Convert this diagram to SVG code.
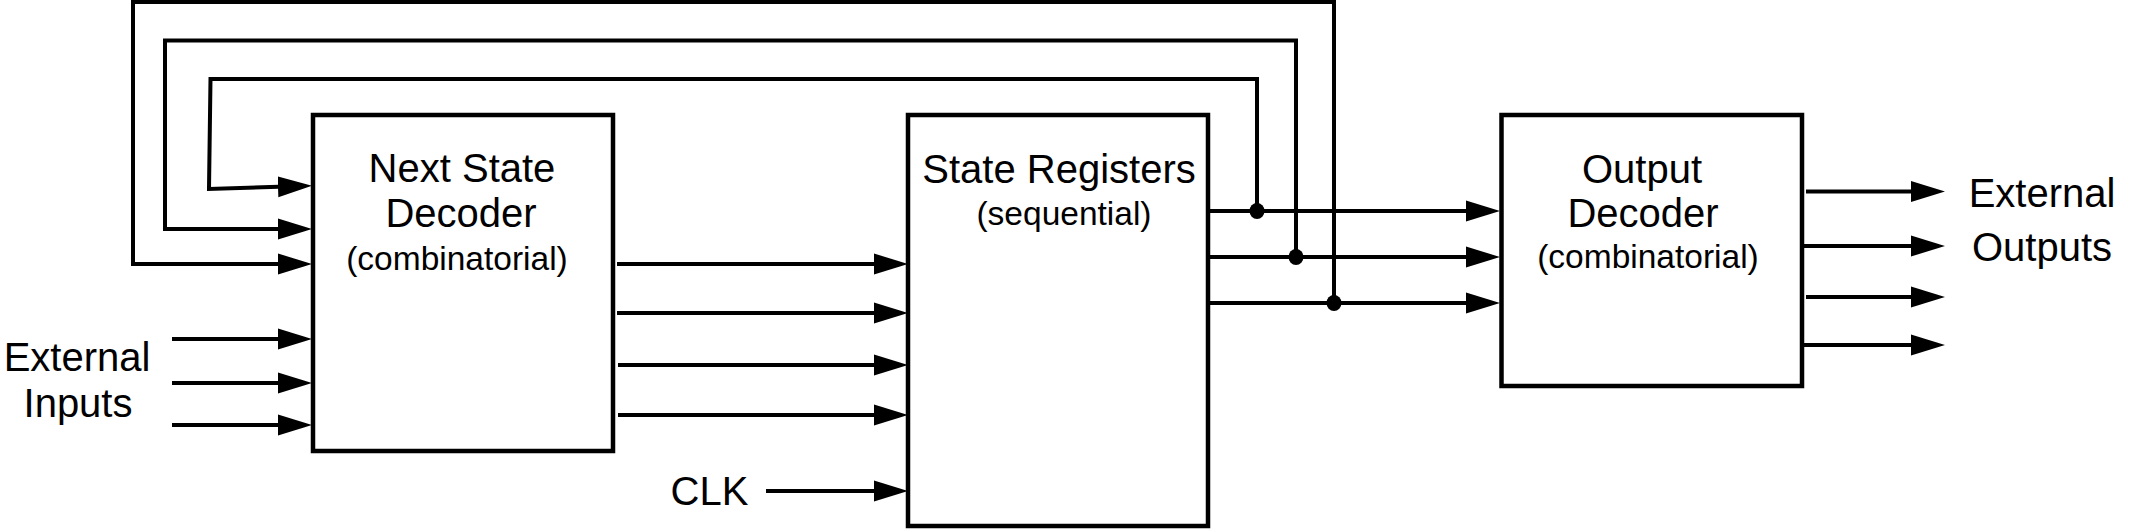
<svg xmlns="http://www.w3.org/2000/svg" width="2131" height="530" viewBox="0 0 2131 530">
<style>
.box{fill:#fff;stroke:#000;stroke-width:4.5}
.w{fill:none;stroke:#000;stroke-width:4;stroke-linecap:butt;stroke-linejoin:miter}
.a{marker-end:url(#ah)}
.t{font-family:"Liberation Sans",Arial,Helvetica,sans-serif;font-size:40px;fill:#000;text-anchor:middle}
.s{font-size:33.5px}
.dot{fill:#000}
</style>
<defs>
<marker id="ah" markerUnits="userSpaceOnUse" markerWidth="34" markerHeight="22" viewBox="0 0 34 22" refX="9" refY="11" orient="auto">
<path d="M0,0.5 L34,11 L0,21.5 z" fill="#000"/>
</marker>
</defs>
<rect width="2131" height="530" fill="#fff"/>
<g id="connectors">
<!-- feedback loops -->
<path class="w a" d="M1334,303 L1334,2 L133,2 L133,264 L287,264"/>
<path class="w a" d="M1296,257 L1296,40.5 L165,40.5 L165,229 L287,229"/>
<path class="w a" d="M1257,211 L1257,79 L210.5,79 L209,189 L287,186.5"/>
<!-- external inputs -->
<path class="w a" d="M172,339 L287,339"/>
<path class="w a" d="M172,383 L287,383"/>
<path class="w a" d="M172,425 L287,425"/>
<!-- next state to registers -->
<path class="w a" d="M617,264 L883,264"/>
<path class="w a" d="M617,313 L883,313"/>
<path class="w a" d="M618,365 L883,365"/>
<path class="w a" d="M618,415 L883,415"/>
<!-- CLK -->
<path class="w a" d="M766,491 L883,491"/>
<!-- registers to output decoder -->
<path class="w a" d="M1210,211 L1475,211"/>
<path class="w a" d="M1210,257 L1475,257"/>
<path class="w a" d="M1210,303 L1475,303"/>
<!-- external outputs -->
<path class="w a" d="M1806,191.5 L1920,191.5"/>
<path class="w a" d="M1804,246 L1920,246"/>
<path class="w a" d="M1806,297 L1920,297"/>
<path class="w a" d="M1804,345 L1920,345"/>
<!-- junction dots -->
<ellipse class="dot" cx="1257" cy="211" rx="7.5" ry="8"/>
<ellipse class="dot" cx="1296" cy="257" rx="7.5" ry="8"/>
<ellipse class="dot" cx="1334" cy="303" rx="7.5" ry="8"/>
</g>
<g id="next-state-decoder">
<rect class="box" x="313" y="115" width="300" height="336"/>
<text class="t" x="462" y="182">Next State</text>
<text class="t" x="461" y="227">Decoder</text>
<text class="t s" x="457" y="270">(combinatorial)</text>
</g>
<g id="state-registers">
<rect class="box" x="908" y="115" width="300" height="411"/>
<text class="t" x="1059" y="183">State Registers</text>
<text class="t s" x="1064" y="225">(sequential)</text>
</g>
<g id="output-decoder">
<rect class="box" x="1501.5" y="115" width="300.5" height="271"/>
<text class="t" x="1642" y="183">Output</text>
<text class="t" x="1643" y="227">Decoder</text>
<text class="t s" x="1648" y="268">(combinatorial)</text>
</g>
<g id="external-inputs">
<text class="t" x="77" y="371">External</text>
<text class="t" x="78" y="417">Inputs</text>
</g>
<g id="clk">
<text class="t" x="709.5" y="505">CLK</text>
</g>
<g id="external-outputs">
<text class="t" x="2042" y="207">External</text>
<text class="t" x="2042" y="261">Outputs</text>
</g>
</svg>
